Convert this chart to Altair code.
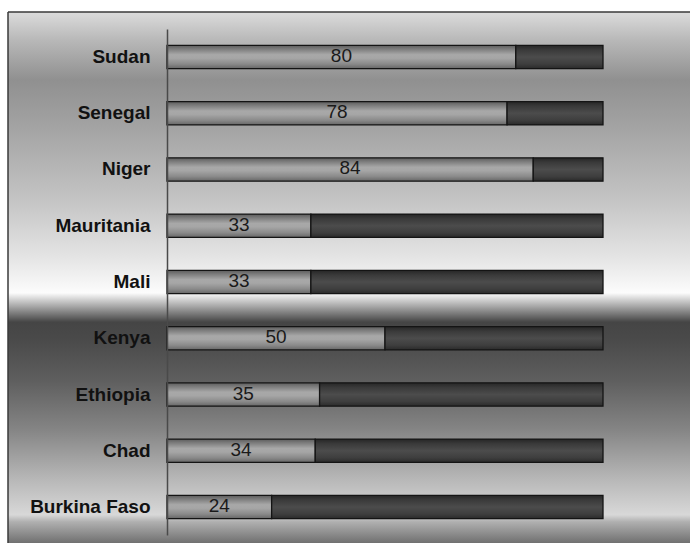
import altair as alt
import pandas as pd

# Share of each country (first segment) against a 100% total
countries = ["Sudan", "Senegal", "Niger", "Mauritania", "Mali",
             "Kenya", "Ethiopia", "Chad", "Burkina Faso"]
values = [80, 78, 84, 33, 33, 50, 35, 34, 24]
totals = [100] * len(countries)

df = pd.DataFrame({"country": countries, "value": values, "total": totals})
one = pd.DataFrame({"k": [0]})

W, H = 436, 506
PAD_L, PAD_T = 167, 29


def vgrad(stops):
    return alt.Gradient(
        gradient="linear", x1=0, y1=0, x2=0, y2=1,
        stops=[alt.GradientStop(color=c, offset=o) for o, c in stops],
    )


# metallic panel behind everything
panel_fill = vgrad([
    (0.000, "#dcdcdc"), (0.053, "#b8b8b8"), (0.128, "#909090"),
    (0.203, "#a0a0a0"), (0.354, "#c4c4c4"), (0.467, "#e6e6e6"),
    (0.529, "#fcfcfc"), (0.542, "#d0d0d0"), (0.584, "#454545"),
    (0.618, "#4a4a4a"), (0.693, "#5e5e5e"), (0.787, "#858585"),
    (0.881, "#b8b8b8"), (0.947, "#d8d8d8"), (0.960, "#b0b0b0"),
    (1.000, "#707070"),
])

light_fill = vgrad([
    (0.0, "#5c5c5c"), (0.15, "#7a7a7a"), (0.4, "#a8a8a8"),
    (0.55, "#a6a6a6"), (0.8, "#8a8a8a"), (1.0, "#666666"),
])
dark_fill = vgrad([
    (0.0, "#262626"), (0.2, "#3a3a3a"), (0.5, "#4c4c4c"),
    (0.8, "#3e3e3e"), (1.0, "#2a2a2a"),
])

x_scale = alt.Scale(domain=[0, 100], nice=False, zero=True)
y_enc = alt.Y(
    "country:N", sort=countries, title=None,
    scale=alt.Scale(paddingInner=0.585, paddingOuter=0.29),
    axis=alt.Axis(
        zindex=1, ticks=False, labelPadding=17,
        labelFont="Liberation Sans", labelFontSize=19, labelFontWeight="bold",
        labelColor="#111111", domainColor="#4a4a4a", domainWidth=1.5,
    ),
)

panel = alt.Chart(one).mark_rect(fill=panel_fill).encode(
    x=alt.value(8 - PAD_L), x2=alt.value(700 - PAD_L),
    y=alt.value(12 - PAD_T), y2=alt.value(543 - PAD_T),
)

frame_top = alt.Chart(one).mark_rule(color="#3a3a3a", strokeWidth=1.5).encode(
    x=alt.value(8 - PAD_L), x2=alt.value(700 - PAD_L), y=alt.value(12 - PAD_T),
)
frame_left = alt.Chart(one).mark_rule(color="#3a3a3a", strokeWidth=1.5).encode(
    x=alt.value(8 - PAD_L), y=alt.value(12 - PAD_T), y2=alt.value(560 - PAD_T),
)

base = alt.Chart(df)

share = base.mark_bar(fill=light_fill, stroke="#141414", strokeWidth=1.3).encode(
    x=alt.X("value:Q", scale=x_scale, axis=None),
    x2=alt.X2(datum=0),
    y=y_enc,
)

rest = base.mark_bar(fill=dark_fill, stroke="#141414", strokeWidth=1.3).encode(
    x=alt.X("value:Q", scale=x_scale, axis=None),
    x2="total:Q",
    y=y_enc,
)

labels = base.transform_calculate(mid="datum.value / 2").mark_text(
    font="Liberation Sans", fontSize=19, color="#1a1a1a",
    align="center", baseline="middle", dy=-1,
).encode(
    x=alt.X("mid:Q", scale=x_scale, axis=None),
    y=y_enc,
    text="value:Q",
)

chart = alt.layer(panel, frame_top, frame_left, share, rest, labels).properties(
    width=W, height=H,
    padding={"left": PAD_L, "top": PAD_T, "right": 690 - PAD_L - W, "bottom": 543 - PAD_T - H},
    autosize=alt.AutoSizeParams(type="none"),
    background="white",
).configure_view(stroke=None)

chart.save("out.html", embed_options={"renderer": "svg", "actions": False})
